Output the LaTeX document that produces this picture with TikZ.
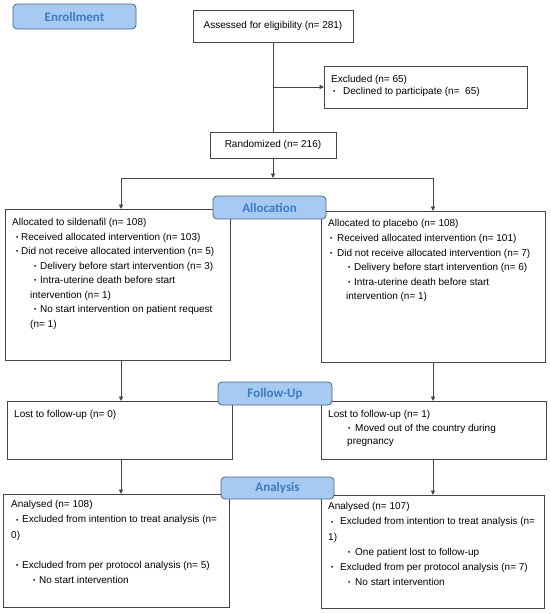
\documentclass[tikz,border=0pt]{standalone}
\usepackage{fontspec}
\setmainfont{Liberation Sans}
\newfontfamily\labelfont{Carlito}
\usetikzlibrary{arrows.meta}
\definecolor{lblfill}{HTML}{A6CAF2}
\definecolor{lbldraw}{HTML}{4A6485}
\definecolor{lbltext}{HTML}{3A7CC0}
\definecolor{edge}{HTML}{444444}
\newcommand\smallbul{\raisebox{0.9pt}{\fontsize{6.5}{6.5}\selectfont\textbullet}}
\newcommand\bitem[3]{\hspace*{#1pt}\makebox[\dimexpr#2pt-#1pt\relax][l]{\smallbul}#3}
\begin{document}
\begin{tikzpicture}[x=1pt,y=-1pt,
 box/.style={draw=edge,line width=0.8pt,anchor=north west,inner sep=0pt,outer sep=0pt,font=\fontsize{10}{12}\selectfont},
 lbl/.style={draw=lbldraw,fill=lblfill,rounded corners=4pt,line width=0.8pt,anchor=north west,inner sep=0pt,outer sep=0pt,text=lbltext,font=\labelfont\bfseries\fontsize{13}{13}\selectfont},
 txt/.style={anchor=north west,inner sep=0pt,align=left,font=\fontsize{10}{14.5}\selectfont},
 conn/.style={draw=edge,line width=0.8pt},
 arr/.style={conn,-{Triangle[length=4.5pt,width=4pt]}}]
\fill[white] (0,0) rectangle (550,614);
\useasboundingbox (0,0) rectangle (550,614);

% boxes
\node[box,minimum width=160pt,minimum height=32pt] (assess) at (193,10) {Assessed for eligibility (n= 281)};
\node[box,minimum width=203pt,minimum height=42pt] (excl) at (324,66) {};
\node[box,minimum width=126pt,minimum height=26pt] (rand) at (210,132) {Randomized (n= 216)};
\node[box,minimum width=225pt,minimum height=151pt] (allocL) at (5,209) {};
\node[box,minimum width=224pt,minimum height=151pt] (allocR) at (321,211) {};
\node[box,minimum width=225pt,minimum height=58pt] (fuL) at (7,401) {};
\node[box,minimum width=225pt,minimum height=58pt] (fuR) at (321,401) {};
\node[box,minimum width=226pt,minimum height=113pt] (anL) at (3,494) {};
\node[box,minimum width=223pt,minimum height=113pt] (anR) at (321,495) {};

% texts
\node[txt,font=\fontsize{10}{12}\selectfont] (exclT) at (331,75.3) {Excluded (n= 65)\\
\bitem{2}{12}{Declined to participate (n= \ 65)}};
\node[txt] (allocLT) at (12,218.3) {Allocated to sildenafil (n= 108)\\
\bitem{4}{9}{Received allocated intervention (n= 103)}\\
\bitem{4}{9}{Did not receive allocated intervention (n= 5)}\\
\bitem{22}{28}{Delivery before start intervention (n= 3)}\\
\bitem{22}{28}{Intra-uterine death before start}\\
\hspace*{18pt}intervention (n= 1)\\
\bitem{22}{28}{No start intervention on patient request}\\
\hspace*{18pt}(n= 1)};
\node[txt,font=\fontsize{10}{14.6}\selectfont] (allocRT) at (328,219.5) {Allocated to placebo (n= 108)\\
\bitem{2}{9}{Received allocated intervention (n= 101)}\\
\bitem{2}{9}{Did not receive allocated intervention (n= 7)}\\
\bitem{20}{26}{Delivery before start intervention (n= 6)}\\
\bitem{20}{26}{Intra-uterine death before start}\\
\hspace*{18pt}intervention (n= 1)};
\node[txt] (fuLT) at (14,410.3) {Lost to follow-up (n= 0)};
\node[txt,font=\fontsize{10}{13.3}\selectfont] (fuRT) at (328,410.5) {Lost to follow-up (n= 1)\\
\bitem{20}{27}{Moved out of the country during}\\
\hspace*{19pt}pregnancy};
\node[txt,font=\fontsize{10}{15.2}\selectfont] (anLT) at (11,500.3) {Analysed (n= 108)\\
\bitem{5}{11}{Excluded from intention to treat analysis (n=}\\
0)\\
\mbox{}\\
\bitem{5}{11}{Excluded from per protocol analysis (n= 5)}\\
\bitem{22}{28}{No start intervention}};
\node[txt,font=\fontsize{10}{15.2}\selectfont] (anRT) at (328,502.3) {Analysed (n= 107)\\
\bitem{3}{12}{Excluded from intention to treat analysis (n=}\\
1)\\
\bitem{20}{27}{One patient lost to follow-up}\\
\bitem{3}{12}{Excluded from per protocol analysis (n= 7)}\\
\bitem{20}{27}{No start intervention}};

% connectors
\coordinate (split) at (273,178);
\coordinate (colL) at (121,0);
\draw[conn] (assess.south) -- (rand.north);
\draw[arr] (assess.south |- excl.west) -- (excl.west);
\draw[arr] (rand.south) -- (split);
\draw[arr] (split) -| (colL |- allocL.north);
\draw[arr] (split) -| (allocR.north);
\draw[arr] (allocL.south -| colL) -- (fuL.north -| colL);
\draw[arr] (allocR.south) -- (fuR.north -| allocR.south);
\draw[arr] (fuL.south -| colL) -- (anL.north -| colL);
\draw[arr] (fuR.south -| allocR.south) -- (anR.north -| allocR.south);

% phase labels
\node[lbl,minimum width=123pt,minimum height=25pt] (enroll) at (13,4) {Enrollment};
\node[lbl,minimum width=113pt,minimum height=23pt] (alloc) at (213,196) {Allocation};
\node[lbl,minimum width=114pt,minimum height=23pt] (fu) at (218,382) {Follow-Up};
\node[lbl,minimum width=113pt,minimum height=22pt] (an) at (221,477) {Analysis};
\end{tikzpicture}
\end{document}
